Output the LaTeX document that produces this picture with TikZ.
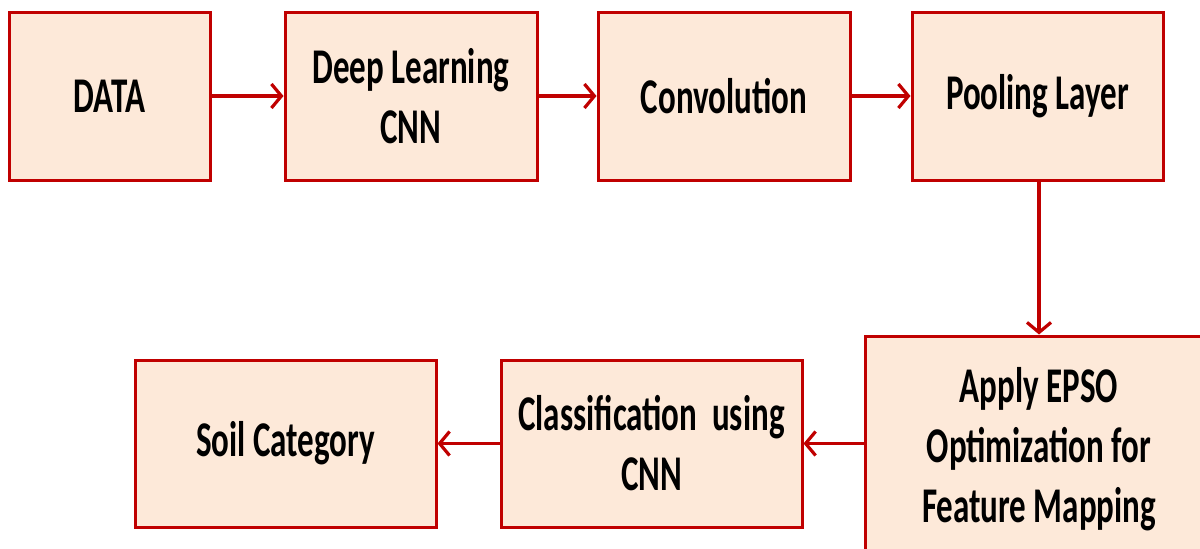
\documentclass[tikz,border=0pt]{standalone}
\usepackage{fontspec}
\setmainfont{Carlito}[FakeStretch=0.66]
\usetikzlibrary{arrows.meta}
\definecolor{boxred}{HTML}{C00000}
\definecolor{boxfill}{HTML}{FDE9D9}
\tikzset{
  box/.style={draw=boxred, fill=boxfill, line width=3pt, align=center,
    font=\fontsize{50}{60}\selectfont\bfseries, inner sep=0pt},
  arr/.style={draw=boxred, line width=3.2pt, -{Straight Barb[length=10pt,width=24pt,line width=3.2pt]}}
}
\begin{document}
\begin{tikzpicture}[x=1pt,y=-1pt]
\useasboundingbox (0,0) rectangle (1200,549);
\clip (0,0) rectangle (1200,549);
\node[box, minimum width=201pt, minimum height=168pt] (data) at (109.5,96) {DATA};
\node[box, minimum width=252pt, minimum height=168pt] (dl) at (411,96) {Deep Learning\\CNN};
\node[box, minimum width=252pt, minimum height=168pt] (conv) at (724,96) {Convolution};
\node[box, minimum width=251pt, minimum height=168pt] (pool) at (1037.5,96) {Pooling Layer};
\node[box, minimum width=348pt, minimum height=226pt] (epso) at (1039,449) {Apply EPSO\\Optimization for\\Feature Mapping};
\node[box, minimum width=301pt, minimum height=167pt] (cls) at (651.5,443.5) {Classification~ using\\CNN};
\node[box, minimum width=301pt, minimum height=167pt] (soil) at (285.5,443.5) {Soil Category};
\draw[arr] (data) -- (dl);
\draw[arr] (dl) -- (conv);
\draw[arr] (conv) -- (pool);
\draw[arr] (pool.south -| epso.north) -- (epso.north);
\draw[arr] (epso.west |- cls.east) -- (cls.east);
\draw[arr] (cls) -- (soil);
\end{tikzpicture}
\end{document}
